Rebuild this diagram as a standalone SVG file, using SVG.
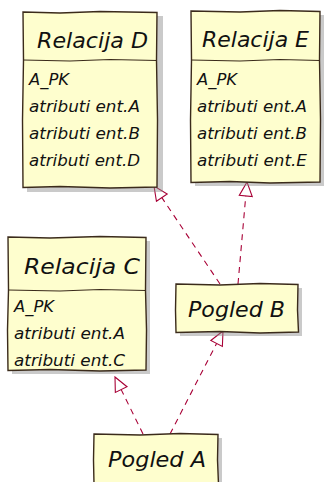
<svg xmlns="http://www.w3.org/2000/svg" width="325" height="482" viewBox="0 0 325 482">
  <style>
    .box { fill: #FEFECE; stroke: #3b2b1b; stroke-width: 1.4; }
    .shadow { fill: #8a8a8a; opacity: 0.45; }
    .sep { fill: none; stroke: #3b2b1b; stroke-width: 1.2; }
    .title { font-family: "DejaVu Sans", "Liberation Sans", sans-serif; font-style: oblique; font-size: 22px; fill: #111; }
    .attr { font-family: "DejaVu Sans", "Liberation Sans", sans-serif; font-style: oblique; font-size: 16px; fill: #111; }
    .link { fill: none; stroke: #A80036; stroke-width: 1.1; stroke-dasharray: 6 5; }
  </style>
  <defs>
    <marker id="realize" viewBox="0 0 16 16" refX="15" refY="8" markerWidth="16" markerHeight="16" markerUnits="userSpaceOnUse" orient="auto">
      <path d="M1,1.5 L15,8 L1,14.5 Z" fill="#ffffff" stroke="#A80036" stroke-width="1.1"/>
    </marker>
  </defs>

  <rect width="325" height="482" fill="#ffffff"/>

  <g id="connectors">
    <path class="link" d="M220,284 L154,186" marker-end="url(#realize)"/>
    <path class="link" d="M238,284 L247,182" marker-end="url(#realize)"/>
    <path class="link" d="M143,434 L115,377" marker-end="url(#realize)"/>
    <path class="link" d="M170,434 L223,331" marker-end="url(#realize)"/>
  </g>

  <g id="relacija-d">
    <rect class="shadow" x="27" y="16" width="136" height="176"/>
    <path class="box" d="M23,12 L60,13 L100,11.5 L157,12.5 L156.5,60 L157.5,120 L157,187 L110,188 L60,186.5 L23,187.5 L22.5,120 L23.5,60 Z"/>
    <path class="sep" d="M23,60 L70,61 L110,59.5 L157,60.5"/>
    <text class="title" x="37" y="48" textLength="111" lengthAdjust="spacingAndGlyphs">Relacija D</text>
    <text class="attr" x="29" y="85" textLength="40" lengthAdjust="spacingAndGlyphs">A_PK</text>
    <text class="attr" x="29" y="112" textLength="111" lengthAdjust="spacingAndGlyphs">atributi ent.A</text>
    <text class="attr" x="29" y="139" textLength="111" lengthAdjust="spacingAndGlyphs">atributi ent.B</text>
    <text class="attr" x="29" y="166" textLength="111" lengthAdjust="spacingAndGlyphs">atributi ent.D</text>
  </g>

  <g id="relacija-e">
    <rect class="shadow" x="195" y="15" width="129" height="171"/>
    <path class="box" d="M191,11 L240,12 L280,10.5 L320,11.5 L319.5,60 L320.5,120 L320,182 L270,183 L230,181.5 L191,182.5 L190.5,120 L191.5,60 Z"/>
    <path class="sep" d="M191,60 L240,61 L280,59.5 L320,60.5"/>
    <text class="title" x="202" y="47" textLength="107" lengthAdjust="spacingAndGlyphs">Relacija E</text>
    <text class="attr" x="197" y="85" textLength="40" lengthAdjust="spacingAndGlyphs">A_PK</text>
    <text class="attr" x="197" y="112" textLength="110" lengthAdjust="spacingAndGlyphs">atributi ent.A</text>
    <text class="attr" x="197" y="139" textLength="110" lengthAdjust="spacingAndGlyphs">atributi ent.B</text>
    <text class="attr" x="197" y="166" textLength="110" lengthAdjust="spacingAndGlyphs">atributi ent.E</text>
  </g>

  <g id="relacija-c">
    <rect class="shadow" x="12" y="241" width="138" height="133"/>
    <path class="box" d="M8,237 L50,238 L100,236.5 L146,237.5 L145.5,290 L146.5,330 L146,370 L100,371 L50,369.5 L8,370.5 L7.5,330 L8.5,290 Z"/>
    <path class="sep" d="M8,290 L60,291 L100,289.5 L146,290.5"/>
    <text class="title" x="24" y="274" textLength="116" lengthAdjust="spacingAndGlyphs">Relacija C</text>
    <text class="attr" x="14" y="312" textLength="40" lengthAdjust="spacingAndGlyphs">A_PK</text>
    <text class="attr" x="14" y="339" textLength="111" lengthAdjust="spacingAndGlyphs">atributi ent.A</text>
    <text class="attr" x="14" y="366" textLength="111" lengthAdjust="spacingAndGlyphs">atributi ent.C</text>
  </g>

  <g id="pogled-b">
    <rect class="shadow" x="180" y="288" width="122" height="48"/>
    <path class="box" d="M176,284 L220,285 L260,283.5 L298,284.5 L297.5,310 L298.5,332 L260,333 L220,331.5 L176,332.5 L175.5,310 Z"/>
    <text class="title" x="188" y="317" textLength="97" lengthAdjust="spacingAndGlyphs">Pogled B</text>
  </g>

  <g id="pogled-a">
    <rect class="shadow" x="98" y="438" width="124" height="50"/>
    <path class="box" d="M94,434 L140,435 L180,433.5 L218,434.5 L217.5,460 L218.5,484 L94,484 L93.5,460 Z"/>
    <text class="title" x="108" y="467" textLength="98" lengthAdjust="spacingAndGlyphs">Pogled A</text>
  </g>
</svg>
